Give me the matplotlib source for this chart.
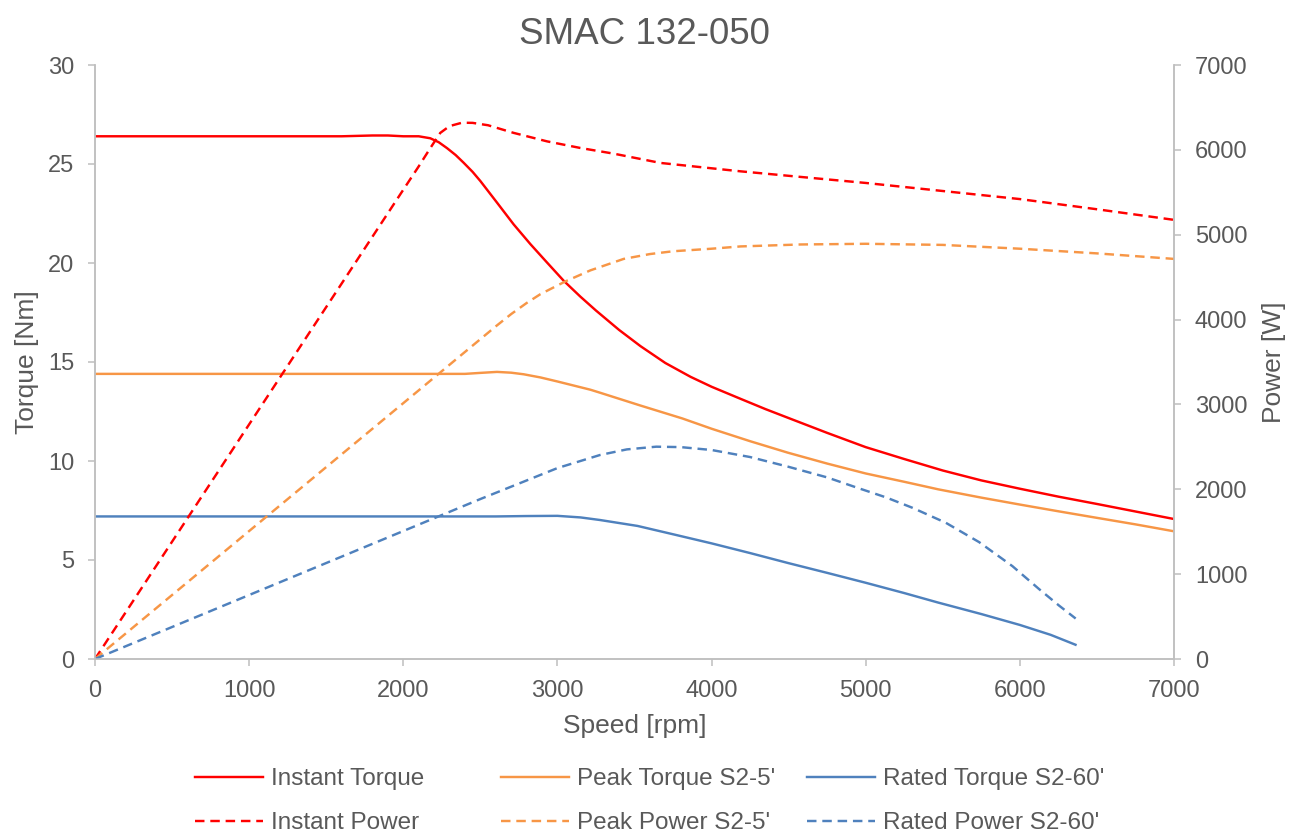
import matplotlib
matplotlib.use("Agg")
import matplotlib.pyplot as plt

# --- data ---
speed_inst_torque = [0, 1000, 1600, 1800, 1900, 2000, 2100, 2175, 2230, 2284, 2340, 2392,
                     2450, 2500, 2608, 2716, 2825, 2933, 3041, 3149, 3250, 3400, 3539, 3700,
                     3864, 4000, 4188, 4350, 4513, 4750, 5000, 5250, 5500, 5750, 6000, 6250,
                     6500, 6750, 7000]
inst_torque = [26.4, 26.4, 26.4, 26.44, 26.44, 26.4, 26.4, 26.3, 26.1, 25.8, 25.45, 25.06,
               24.6, 24.14, 23.05, 21.95, 20.95, 20.02, 19.1, 18.3, 17.6, 16.62, 15.8, 14.95,
               14.25, 13.75, 13.14, 12.62, 12.13, 11.42, 10.7, 10.1, 9.52, 9.02, 8.6, 8.2,
               7.83, 7.45, 7.07]

speed_inst_power = [0, 1000, 2000, 2100, 2175, 2240, 2300, 2381, 2450, 2550, 2716, 2933,
                    3149, 3366, 3668, 4188, 4578, 5000, 5500, 6000, 6500, 7000]
inst_power = [0, 2765, 5530, 5805, 6020, 6200, 6280, 6320, 6318, 6290, 6200, 6100,
              6022, 5955, 5846, 5747, 5681, 5610, 5515, 5420, 5300, 5175]

speed_peak_torque = [0, 1000, 2000, 2400, 2500, 2608, 2700, 2781, 2890, 2998, 3214, 3276,
                     3539, 3810, 4000, 4250, 4495, 4750, 5000, 5250, 5470, 5750, 6000, 6250,
                     6446, 6750, 7000]
peak_torque = [14.4, 14.4, 14.4, 14.4, 14.45, 14.5, 14.46, 14.38, 14.22, 14.02, 13.6, 13.45,
               12.8, 12.15, 11.63, 11.0, 10.42, 9.87, 9.37, 8.95, 8.57, 8.15, 7.8, 7.46,
               7.2, 6.8, 6.45]

speed_peak_power = [0, 1000, 2000, 2600, 2700, 2800, 2890, 3052, 3214, 3430, 3600, 3750,
                    4000, 4188, 4578, 5000, 5500, 6000, 6500, 7000]
peak_power = [0, 1508, 3015, 3920, 4065, 4195, 4300, 4450, 4580, 4715, 4772, 4805,
              4835, 4862, 4885, 4893, 4880, 4835, 4780, 4715]

speed_rated_torque = [0, 1000, 2000, 2600, 2800, 3000, 3150, 3276, 3520, 3750, 4000, 4250,
                      4495, 4750, 5000, 5250, 5470, 5750, 6000, 6200, 6361]
rated_torque = [7.2, 7.2, 7.2, 7.2, 7.22, 7.23, 7.15, 7.02, 6.72, 6.3, 5.84, 5.35,
                4.85, 4.35, 3.85, 3.33, 2.85, 2.27, 1.72, 1.22, 0.72]

speed_rated_power = [0, 1000, 2000, 2500, 2781, 3000, 3276, 3450, 3641, 3800, 4000, 4250,
                     4495, 4750, 4950, 5131, 5303, 5520, 5736, 5952, 6124, 6254, 6362]
rated_power = [0, 754, 1508, 1885, 2090, 2250, 2404, 2470, 2502, 2497, 2463, 2380,
               2267, 2140, 2015, 1905, 1782, 1605, 1377, 1094, 825, 630, 477]

x_ticks = [0, 1000, 2000, 3000, 4000, 5000, 6000, 7000]
torque_ticks = [0, 5, 10, 15, 20, 25, 30]
power_ticks = [0, 1000, 2000, 3000, 4000, 5000, 6000, 7000]

RED = "#FF0000"
ORANGE = "#F79646"
BLUE = "#4F81BD"
TEXT = "#595959"
AXIS = "#BFBFBF"
LW = 1.75
DASH = (3.9, 2.4)

plt.rcParams.update({
    "font.family": ["Liberation Sans", "DejaVu Sans"],
    "text.color": TEXT,
})

fig = plt.figure(figsize=(12.9, 8.33), dpi=100)
ax = fig.add_axes([95 / 1290, 1 - 659 / 833, 1079 / 1290, 594 / 833])
ax2 = ax.twinx()

h_it, = ax.plot(speed_inst_torque, inst_torque, color=RED, lw=LW, label="Instant Torque")
h_pt, = ax.plot(speed_peak_torque, peak_torque, color=ORANGE, lw=LW, label="Peak Torque S2-5'")
h_rt, = ax.plot(speed_rated_torque, rated_torque, color=BLUE, lw=LW, label="Rated Torque S2-60'")
h_ip, = ax2.plot(speed_inst_power, inst_power, color=RED, lw=LW, dashes=DASH, label="Instant Power")
h_pp, = ax2.plot(speed_peak_power, peak_power, color=ORANGE, lw=LW, dashes=DASH, label="Peak Power S2-5'")
h_rp, = ax2.plot(speed_rated_power, rated_power, color=BLUE, lw=LW, dashes=DASH, label="Rated Power S2-60'")

ax.set_xlim(0, 7000)
ax.set_ylim(0, 30)
ax2.set_ylim(0, 7000)
ax.set_xticks(x_ticks)
ax.set_yticks(torque_ticks)
ax2.set_yticks(power_ticks)

for a in (ax, ax2):
    a.set_facecolor("none")
    a.spines["top"].set_visible(False)
    for side in ("left", "right", "bottom"):
        a.spines[side].set_color(AXIS)
        a.spines[side].set_linewidth(1.1)
    a.tick_params(colors=AXIS, labelcolor=TEXT, labelsize=17, length=5, width=1.1, pad=10)
ax.tick_params(axis="x", pad=10)

fig.text(644 / 1290, 1 - 34 / 833, "SMAC 132-050", fontsize=26.5, color=TEXT,
         ha="center", va="center")

ax.set_xlabel("Speed [rpm]", fontsize=19, color=TEXT)
ax.xaxis.set_label_coords(0.5, -0.093)
ax.set_ylabel("Torque [Nm]", fontsize=19, color=TEXT)
ax.yaxis.set_label_coords(-0.052, 0.5)
ax2.set_ylabel("Power [W]", fontsize=19, color=TEXT)
ax2.yaxis.set_label_coords(1.082, 0.5)

# three 2-row legend columns, evenly spaced like the Excel original
legend_cols = [(h_it, h_ip), (h_pt, h_pp), (h_rt, h_rp)]
col_x = [195, 501, 807]
for handles, x0 in zip(legend_cols, col_x):
    fig.legend(handles=list(handles), loc="upper left",
               bbox_to_anchor=(x0 / 1290, 1 - 768 / 833),
               frameon=False, fontsize=17.5, handlelength=2.8, handletextpad=0.32,
               labelspacing=0.92, borderpad=0, borderaxespad=0, labelcolor=TEXT)

fig.savefig("out.png", dpi=100, facecolor="white")
